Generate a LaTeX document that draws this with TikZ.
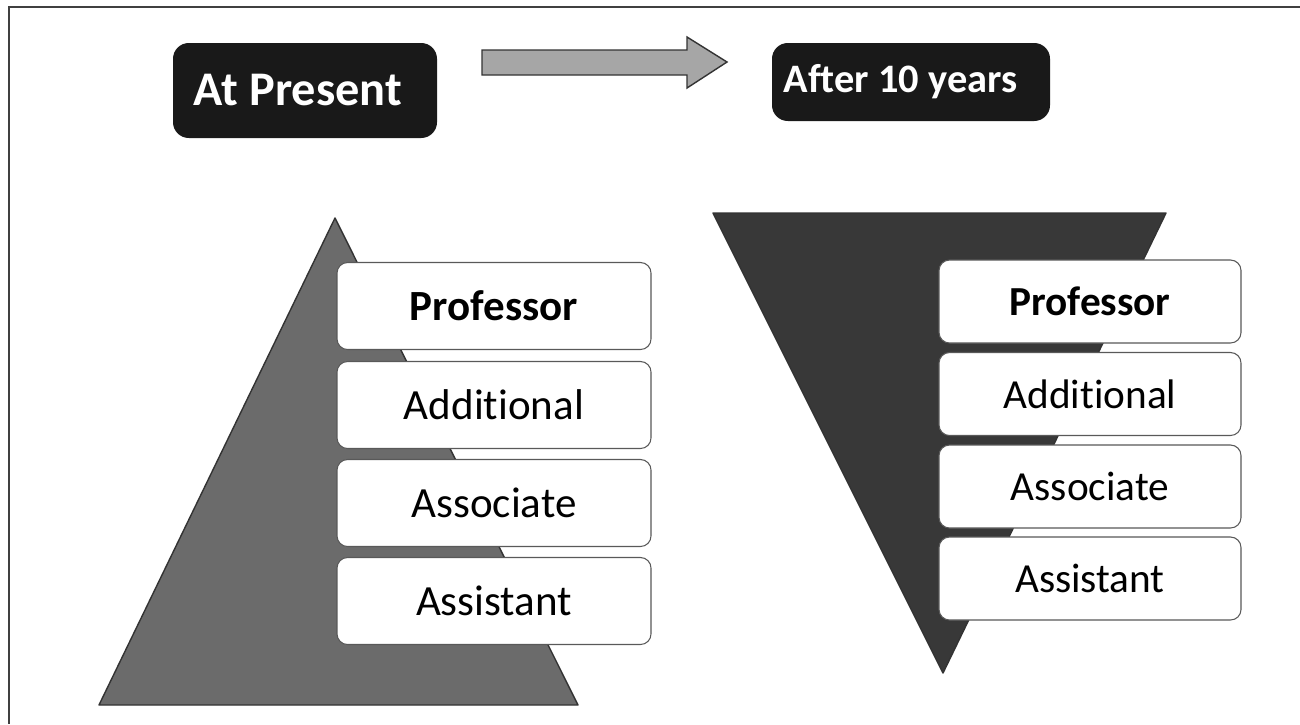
\documentclass[tikz,border=0pt]{standalone}
\usepackage{fontspec}
\setmainfont{Carlito}[Ligatures=CommonOff]
\begin{document}
\begin{tikzpicture}[x=0.02cm,y=-0.02cm,
  header/.style={fill=black!90,rounded corners=9pt,text=white,font=\bfseries,inner sep=0pt},
  rank/.style={draw=black!65,line width=0.6pt,fill=white,rounded corners=6pt,inner sep=0pt},
  leftrank/.style={rank,minimum width=314*0.02cm,minimum height=87*0.02cm,font=\fontsize{24.5}{28}\selectfont},
  rightrank/.style={rank,minimum width=302*0.02cm,minimum height=83*0.02cm,font=\fontsize{23.5}{27}\selectfont},
  pyramid/.style={draw=black!80,line width=0.8pt,line join=round}]
\useasboundingbox (0,0) rectangle (1300,724);
\fill[white] (0,0) rectangle (1300,724);

% page frame (top and left edges)
\draw[black!75,line width=1.2pt] (1300,7) -- (9,7) -- (9,724);

% column headings
\node[header,minimum width=264*0.02cm,minimum height=95*0.02cm,
      font=\bfseries\fontsize{27.5}{30}\selectfont] (present) at (305,90.5) {At Present\hspace*{8pt}};
\node[header,minimum width=278*0.02cm,minimum height=78*0.02cm,
      font=\bfseries\fontsize{23}{26}\selectfont] (future) at (911,82) {Af\kern0ptter 10 years\hspace*{12pt}};

% block arrow between the headings
\draw[black!80,fill=black!35,line width=0.8pt,line join=miter]
  (482,50) -- (687,50) -- (687,37) -- (727,62) -- (687,88) -- (687,75) -- (482,75) -- cycle;

% current pyramid
\draw[pyramid,fill=black!58] (335,218) -- (578,705) -- (99,705) -- cycle;
% inverted pyramid after ten years
\draw[pyramid,fill=black!78] (713,213) -- (1166,213) -- (943,673) -- cycle;

% present ranks
\node[leftrank,font=\bfseries\fontsize{24.5}{28}\selectfont] (lprof) at (494,306) {Professor};
\node[leftrank] (ladd)  at (494,405)   {Addi\kern0pttional};
\node[leftrank] (lasso) at (494,503)   {Associate};
\node[leftrank] (lasst) at (494,601)   {Assistant};

% ranks after ten years
\node[rightrank,font=\bfseries\fontsize{23.5}{27}\selectfont] (rprof) at (1090,301.5) {Professor};
\node[rightrank] (radd)  at (1090,394)   {Addi\kern0pttional};
\node[rightrank] (rasso) at (1090,486.5) {Associate};
\node[rightrank] (rasst) at (1090,578.5) {Assistant};
\end{tikzpicture}
\end{document}
